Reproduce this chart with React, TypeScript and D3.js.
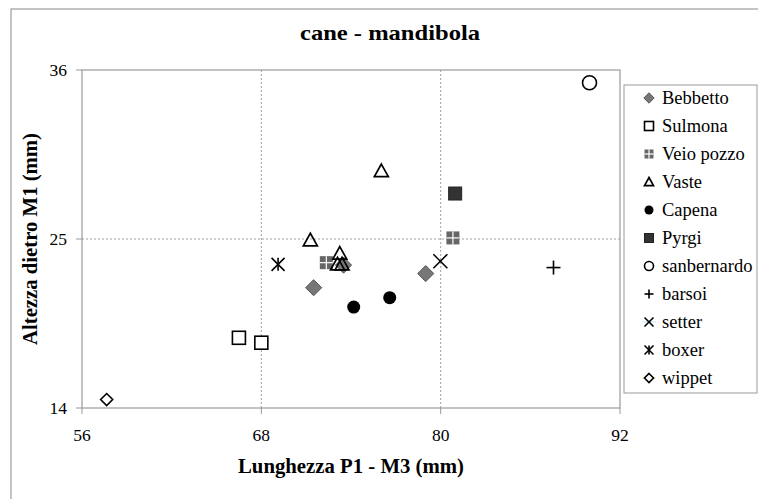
import React from "react";
import { scaleLinear } from "d3";

const width = 758;
const height = 499;
const margin = { top: 70, right: 138, bottom: 91, left: 82 };
const innerWidth = width - margin.left - margin.right;
const innerHeight = height - margin.top - margin.bottom;

const seriesNames = ["Bebbetto", "Sulmona", "Veio pozzo", "Vaste", "Capena", "Pyrgi", "sanbernardo", "barsoi", "setter", "boxer", "wippet"];
const seriesShapes = ["diamondGray", "squareOpen", "gridSquare", "triangleOpen", "circleFilled", "squareDark", "circleOpen", "plus", "cross", "asterisk", "diamondOpen"];

const bebbettoX = [71.5, 79.0, 73.5];
const bebbettoY = [21.83, 22.75, 23.3];
const sulmonaX = [66.5, 68.0];
const sulmonaY = [18.57, 18.25];
const veioX = [72.35, 80.82];
const veioY = [23.46, 25.07];
const vasteX = [71.28, 76.03, 73.25, 73.1, 73.4];
const vasteY = [24.92, 29.42, 24.05, 23.35, 23.35];
const capenaX = [74.18, 76.59];
const capenaY = [20.57, 21.18];
const pyrgiX = [80.97];
const pyrgiY = [27.96];
const sanbernardoX = [89.96];
const sanbernardoY = [35.17];
const barsoiX = [87.55];
const barsoiY = [23.14];
const setterX = [79.98];
const setterY = [23.55];
const boxerX = [69.12];
const boxerY = [23.35];
const wippetX = [57.65];
const wippetY = [14.55];

const allX = [bebbettoX, sulmonaX, veioX, vasteX, capenaX, pyrgiX, sanbernardoX, barsoiX, setterX, boxerX, wippetX];
const allY = [bebbettoY, sulmonaY, veioY, vasteY, capenaY, pyrgiY, sanbernardoY, barsoiY, setterY, boxerY, wippetY];

const xTicks = [56, 68, 80, 92];
const yTicks = [14, 25, 36];

const font = "'Liberation Serif', 'Times New Roman', serif";

// draws one marker centred on (cx, cy); s = half size
const Marker = ({ shape, cx, cy, s }: { shape: string; cx: number; cy: number; s: number }) => {
  switch (shape) {
    case "diamondGray":
      return <path d={`M${cx},${cy - s * 1.15}L${cx + s * 1.15},${cy}L${cx},${cy + s * 1.15}L${cx - s * 1.15},${cy}Z`} fill="#777" stroke="#555" strokeWidth={1} />;
    case "diamondOpen":
      return <path d={`M${cx},${cy - s}L${cx + s},${cy}L${cx},${cy + s}L${cx - s},${cy}Z`} fill="#fff" stroke="#000" strokeWidth={1.6} />;
    case "squareOpen":
      return <rect x={cx - s} y={cy - s} width={s * 2} height={s * 2} fill="#fff" stroke="#000" strokeWidth={1.6} />;
    case "squareDark":
      return <rect x={cx - s} y={cy - s} width={s * 2} height={s * 2} fill="#333" stroke="#222" strokeWidth={1} />;
    case "gridSquare":
      return (
        <g>
          <rect x={cx - s} y={cy - s} width={s * 2} height={s * 2} fill="#666" />
          <line x1={cx} x2={cx} y1={cy - s} y2={cy + s} stroke="#fff" strokeWidth={1.2} />
          <line x1={cx - s} x2={cx + s} y1={cy} y2={cy} stroke="#fff" strokeWidth={1.2} />
        </g>
      );
    case "triangleOpen":
      return <path d={`M${cx},${cy - s}L${cx + s},${cy + s * 0.8}L${cx - s},${cy + s * 0.8}Z`} fill="none" stroke="#000" strokeWidth={1.7} />;
    case "circleFilled":
      return <circle cx={cx} cy={cy} r={s} fill="#000" />;
    case "circleOpen":
      return <circle cx={cx} cy={cy} r={s} fill="#fff" stroke="#000" strokeWidth={1.6} />;
    case "plus":
      return (
        <g stroke="#000" strokeWidth={1.6}>
          <line x1={cx - s} x2={cx + s} y1={cy} y2={cy} />
          <line x1={cx} x2={cx} y1={cy - s} y2={cy + s} />
        </g>
      );
    case "cross":
      return (
        <g stroke="#000" strokeWidth={1.6}>
          <line x1={cx - s} x2={cx + s} y1={cy - s} y2={cy + s} />
          <line x1={cx - s} x2={cx + s} y1={cy + s} y2={cy - s} />
        </g>
      );
    case "asterisk":
      return (
        <g stroke="#000" strokeWidth={1.6}>
          <line x1={cx - s} x2={cx + s} y1={cy - s} y2={cy + s} />
          <line x1={cx - s} x2={cx + s} y1={cy + s} y2={cy - s} />
          <line x1={cx} x2={cx} y1={cy - s} y2={cy + s} />
        </g>
      );
    default:
      return null;
  }
};

const markerSize: Record<string, number> = {
  diamondGray: 7,
  diamondOpen: 6,
  squareOpen: 6.5,
  squareDark: 6.5,
  gridSquare: 6.5,
  triangleOpen: 7,
  circleFilled: 6.5,
  circleOpen: 7,
  plus: 7,
  cross: 7,
  asterisk: 6.5,
};

const App = () => {
  const xScale = scaleLinear().domain([56, 92]).range([0, innerWidth]);
  const yScale = scaleLinear().domain([14, 36]).range([innerHeight, 0]);

  return (
    <svg width={width} height={height} style={{ position: "absolute", left: 0, top: 0, background: "#fff" }}>
      <rect x={11} y={9} width={800} height={600} fill="none" stroke="#888" strokeWidth={1} />
      <text x={390} y={40} textAnchor="middle" fontFamily={font} fontWeight="bold" fontSize={21} textLength={180} lengthAdjust="spacingAndGlyphs">
        cane - mandibola
      </text>
      <g transform={`translate(${margin.left},${margin.top})`}>
        {xTicks.slice(1, -1).map((t) => (
          <line key={"gx" + t} x1={xScale(t)} x2={xScale(t)} y1={0} y2={innerHeight} stroke="#888" strokeDasharray="2,2" strokeWidth={0.8} />
        ))}
        {yTicks.slice(1, -1).map((t) => (
          <line key={"gy" + t} x1={0} x2={innerWidth} y1={yScale(t)} y2={yScale(t)} stroke="#888" strokeDasharray="2,2" strokeWidth={0.8} />
        ))}
        <rect x={0} y={0} width={innerWidth} height={innerHeight} fill="none" stroke="#999" strokeWidth={1.2} />
        {xTicks.map((t) => (
          <g key={"tx" + t} transform={`translate(${xScale(t)},0)`}>
            <line y1={innerHeight} y2={innerHeight + 6} stroke="#999" />
            <text y={innerHeight + 33} textAnchor="middle" fontFamily={font} fontSize={17.5}>
              {t}
            </text>
          </g>
        ))}
        {yTicks.map((t) => (
          <g key={"ty" + t} transform={`translate(0,${yScale(t)})`}>
            <line x1={-6} x2={0} stroke="#999" />
            <text x={-15} y={6} textAnchor="end" fontFamily={font} fontSize={17.5}>
              {t}
            </text>
          </g>
        ))}
        {seriesNames.map((name, i) =>
          allX[i].map((xv, j) => (
            <Marker key={name + j} shape={seriesShapes[i]} cx={xScale(xv)} cy={yScale(allY[i][j])} s={markerSize[seriesShapes[i]]} />
          ))
        )}
        <text x={innerWidth / 2} y={innerHeight + 65} textAnchor="middle" fontFamily={font} fontWeight="bold" fontSize={20.5} textLength={226} lengthAdjust="spacingAndGlyphs">
          Lunghezza P1 - M3 (mm)
        </text>
        <text transform={`translate(-45,${innerHeight / 2}) rotate(-90)`} textAnchor="middle" fontFamily={font} fontWeight="bold" fontSize={20.5} textLength={212} lengthAdjust="spacingAndGlyphs">
          Altezza dietro M1 (mm)
        </text>
      </g>
      <g transform="translate(624,85)">
        <rect x={0} y={0} width={133} height={308} fill="#fff" stroke="#999" strokeWidth={1} />
        {seriesNames.map((name, i) => (
          <g key={"lg" + name} transform={`translate(0,${13 + i * 28})`}>
            {name === "setter" && <line x1={18} x2={32} y1={0} y2={0} stroke="#bfe9f5" />}
            {name === "wippet" && <line x1={18} x2={32} y1={0} y2={0} stroke="#f0e68c" />}
            <Marker shape={seriesShapes[i]} cx={25} cy={0} s={4.5} />
            <text x={38} y={6} fontFamily={font} fontSize={18.5}>
              {name}
            </text>
          </g>
        ))}
      </g>
    </svg>
  );
};

export default App;
